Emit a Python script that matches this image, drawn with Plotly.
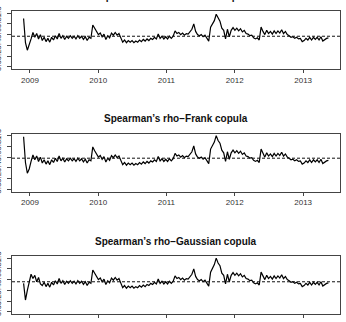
import pandas as pd
import plotly.graph_objects as go

# ---------------- data ----------------
start_date = "2008-11-28"
step = "10D"

rho_gumbel = [
    0.90, 0.45, 0.31, 0.40, 0.52, 0.64, 0.55, 0.62, 0.52, 0.60,
    0.49, 0.55, 0.47, 0.53, 0.46, 0.55, 0.50, 0.58, 0.52, 0.62,
    0.53, 0.58, 0.51, 0.57, 0.53, 0.58, 0.53, 0.57, 0.52, 0.58,
    0.53, 0.57, 0.51, 0.56, 0.49, 0.55, 0.53, 0.78, 0.72, 0.66,
    0.60, 0.63, 0.56, 0.61, 0.51, 0.58, 0.54, 0.63, 0.59, 0.64,
    0.59, 0.62, 0.55, 0.46, 0.50, 0.45, 0.49, 0.46, 0.49, 0.45,
    0.48, 0.46, 0.50, 0.47, 0.51, 0.48, 0.52, 0.49, 0.53, 0.51,
    0.55, 0.52, 0.61, 0.53, 0.57, 0.52, 0.56, 0.52, 0.57, 0.53,
    0.57, 0.67, 0.62, 0.64, 0.60, 0.63, 0.59, 0.62, 0.61, 0.66,
    0.70, 0.80, 0.66, 0.60, 0.58, 0.60, 0.56, 0.59, 0.53, 0.48,
    0.74, 0.80, 0.86, 0.98, 0.90, 0.85, 0.72, 0.68, 0.52, 0.70,
    0.56, 0.68, 0.73, 0.68, 0.72, 0.67, 0.71, 0.65, 0.68, 0.62,
    0.61, 0.58, 0.59, 0.54, 0.52, 0.54, 0.50, 0.74, 0.66, 0.60,
    0.68, 0.62, 0.66, 0.61, 0.67, 0.62, 0.67, 0.63, 0.69, 0.62,
    0.66, 0.60, 0.58, 0.55, 0.56, 0.53, 0.55, 0.52, 0.53, 0.47,
    0.49, 0.53, 0.50, 0.55, 0.50, 0.55, 0.51, 0.55, 0.50, 0.56,
    0.48, 0.51, 0.53, 0.54,
]

rho_frank = [
    0.98, 0.50, 0.30, 0.38, 0.52, 0.64, 0.55, 0.62, 0.52, 0.60,
    0.49, 0.55, 0.47, 0.53, 0.46, 0.55, 0.50, 0.58, 0.52, 0.62,
    0.53, 0.58, 0.51, 0.57, 0.53, 0.58, 0.53, 0.57, 0.52, 0.58,
    0.53, 0.57, 0.51, 0.56, 0.49, 0.55, 0.53, 0.79, 0.72, 0.66,
    0.60, 0.63, 0.56, 0.61, 0.51, 0.58, 0.54, 0.63, 0.59, 0.64,
    0.59, 0.62, 0.55, 0.46, 0.50, 0.45, 0.49, 0.46, 0.49, 0.45,
    0.48, 0.46, 0.50, 0.47, 0.51, 0.48, 0.52, 0.49, 0.53, 0.51,
    0.55, 0.52, 0.61, 0.53, 0.57, 0.52, 0.56, 0.52, 0.57, 0.53,
    0.57, 0.67, 0.62, 0.64, 0.60, 0.63, 0.59, 0.62, 0.61, 0.66,
    0.70, 0.81, 0.66, 0.60, 0.58, 0.60, 0.56, 0.59, 0.53, 0.48,
    0.75, 0.82, 0.88, 1.00, 0.91, 0.86, 0.73, 0.68, 0.52, 0.70,
    0.56, 0.68, 0.73, 0.68, 0.72, 0.67, 0.71, 0.65, 0.68, 0.62,
    0.61, 0.58, 0.59, 0.54, 0.52, 0.54, 0.50, 0.75, 0.66, 0.60,
    0.68, 0.62, 0.66, 0.61, 0.67, 0.62, 0.67, 0.63, 0.69, 0.62,
    0.66, 0.60, 0.58, 0.55, 0.56, 0.53, 0.55, 0.52, 0.53, 0.47,
    0.49, 0.53, 0.50, 0.55, 0.50, 0.55, 0.51, 0.55, 0.50, 0.56,
    0.48, 0.51, 0.53, 0.54,
]

rho_gaussian = [
    0.53, 0.22, 0.40, 0.58, 0.70, 0.62, 0.68, 0.56, 0.64, 0.52,
    0.49, 0.55, 0.47, 0.53, 0.46, 0.55, 0.50, 0.58, 0.52, 0.62,
    0.53, 0.58, 0.51, 0.57, 0.53, 0.58, 0.53, 0.57, 0.52, 0.58,
    0.53, 0.57, 0.51, 0.56, 0.49, 0.55, 0.53, 0.78, 0.72, 0.66,
    0.60, 0.63, 0.56, 0.61, 0.51, 0.58, 0.54, 0.63, 0.59, 0.64,
    0.59, 0.62, 0.55, 0.45, 0.49, 0.44, 0.48, 0.45, 0.48, 0.44,
    0.47, 0.45, 0.49, 0.46, 0.50, 0.47, 0.51, 0.49, 0.53, 0.51,
    0.55, 0.52, 0.61, 0.53, 0.57, 0.52, 0.56, 0.52, 0.57, 0.53,
    0.57, 0.67, 0.62, 0.64, 0.60, 0.63, 0.59, 0.62, 0.61, 0.66,
    0.70, 0.80, 0.66, 0.60, 0.58, 0.60, 0.56, 0.59, 0.53, 0.48,
    0.74, 0.82, 0.88, 1.00, 0.91, 0.86, 0.72, 0.68, 0.52, 0.70,
    0.56, 0.68, 0.73, 0.68, 0.72, 0.67, 0.71, 0.65, 0.68, 0.62,
    0.61, 0.58, 0.59, 0.54, 0.52, 0.54, 0.50, 0.74, 0.66, 0.60,
    0.68, 0.62, 0.66, 0.61, 0.67, 0.62, 0.67, 0.63, 0.69, 0.62,
    0.66, 0.60, 0.58, 0.55, 0.56, 0.53, 0.55, 0.52, 0.53, 0.47,
    0.49, 0.53, 0.50, 0.55, 0.50, 0.55, 0.51, 0.55, 0.50, 0.56,
    0.48, 0.51, 0.53, 0.54,
]

series = [rho_gumbel, rho_frank, rho_gaussian]
ref_levels = [0.57, 0.58, 0.56]
titles = [
    "Spearman\u2019s rho\u2212Gumbel copula",
    "Spearman\u2019s rho\u2212Frank copula",
    "Spearman\u2019s rho\u2212Gaussian copula",
]
year_ticks = ["2009-01-01", "2010-01-01", "2011-01-01", "2012-01-01", "2013-01-01"]
year_labels = ["2009", "2010", "2011", "2012", "2013"]
y_ticks = [0.0, 0.2, 0.4, 0.6, 0.8, 1.0]
y_labels = ["0.0", "0.2", "0.4", "0.6", "0.8", "1.0"]
x_range = ["2008-09-27", "2013-07-17"]
y_range = [-0.04, 1.04]

# ---------------- figure ----------------
W, H = 346, 322
box_left, box_right = 12, 340
panel_tops = [11, 133.5, 256]
panel_h = 58
title_centers = [-3.5, 119, 241]

FONT = "Liberation Sans, Arial, Helvetica, sans-serif"
AX = "#444444"

fig = go.Figure()
layout = dict(
    width=W, height=H,
    margin=dict(l=0, r=0, t=0, b=0),
    paper_bgcolor="white", plot_bgcolor="white",
    showlegend=False,
    font=dict(family=FONT, size=8, color="#333333"),
)

for k, vals in enumerate(series):
    n = "" if k == 0 else str(k + 1)
    dates = pd.date_range(start_date, periods=len(vals), freq=step)
    fig.add_trace(go.Scatter(
        x=dates, y=vals, mode="lines",
        line=dict(color="#000000", width=1.2),
        xaxis="x" + n, yaxis="y" + n, hoverinfo="skip",
    ))
    top = panel_tops[k]
    dom_y = [1 - (top + panel_h) / H, 1 - top / H]
    layout["xaxis" + n] = dict(
        domain=[box_left / W, box_right / W], anchor="y" + n,
        type="date", range=x_range,
        tickmode="array", tickvals=year_ticks, ticktext=year_labels,
        ticks="outside", ticklen=3, tickwidth=1, tickcolor=AX,
        showline=True, linecolor=AX, linewidth=1, mirror=True,
        showgrid=False, zeroline=False,
        tickfont=dict(size=8, color="#333333"), automargin=False,
    )
    layout["yaxis" + n] = dict(
        domain=dom_y, anchor="x" + n, range=y_range,
        tickmode="array", tickvals=y_ticks, ticktext=y_labels,
        ticks="outside", ticklen=4, tickwidth=1, tickcolor=AX,
        showline=True, linecolor=AX, linewidth=1, mirror=True,
        showgrid=False, zeroline=False, tickangle=-90,
        ticklabelstandoff=3,
        tickfont=dict(size=8, color="#333333"), automargin=False,
    )
    fig.add_shape(
        type="line", xref="x" + n + " domain", yref="y" + n,
        x0=0, x1=1, y0=ref_levels[k], y1=ref_levels[k],
        line=dict(color="#111111", width=1, dash="3px,2px"),
    )
    fig.add_annotation(
        text="<b>" + titles[k] + "</b>", xref="paper", yref="paper",
        x=(box_left + box_right) / 2 / W, y=1 - title_centers[k] / H,
        xanchor="center", yanchor="middle", showarrow=False,
        font=dict(size=10, color="#111111", family=FONT),
    )

fig.update_layout(**layout)
fig.write_html("out.html")
